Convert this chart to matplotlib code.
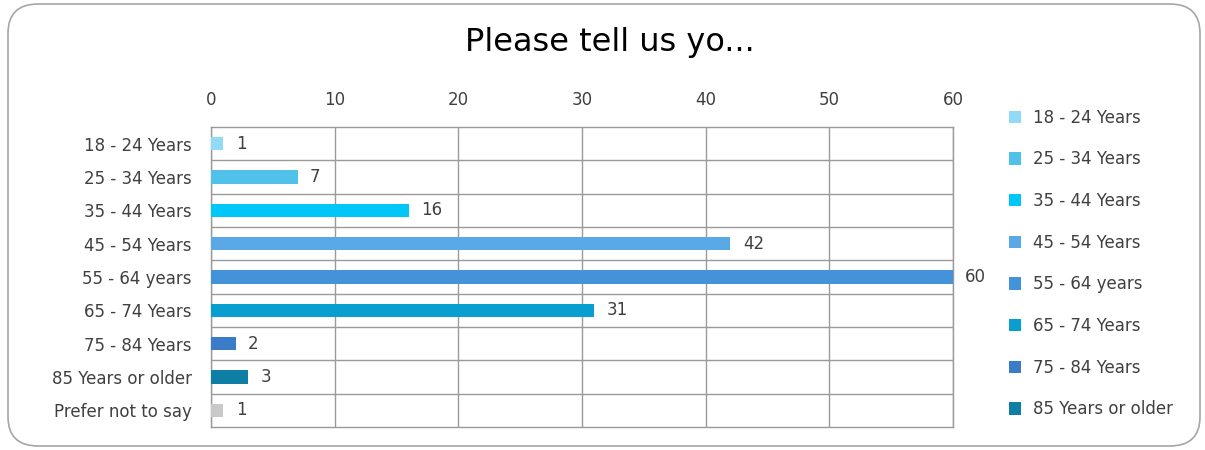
import matplotlib.pyplot as plt
from matplotlib.patches import FancyBboxPatch, Patch

# survey answers
groups = ["18 - 24 Years", "25 - 34 Years", "35 - 44 Years", "45 - 54 Years",
          "55 - 64 years", "65 - 74 Years", "75 - 84 Years", "85 Years or older",
          "Prefer not to say"]
counts = [1, 7, 16, 42, 60, 31, 2, 3, 1]
colors = ["#92DBF6", "#50C2EA", "#00C7F8", "#58A9E5", "#4493DA", "#0A9DD0",
          "#3A7CC7", "#0E7EA5", "#C9C9C9"]
xticks = [0, 10, 20, 30, 40, 50, 60]

txt = "#404040"
plt.rcParams['font.family'] = ['DejaVu Sans']

fig = plt.figure(figsize=(12.05, 4.5), dpi=100)
fig.patch.set_facecolor("white")

# rounded chart frame
frame = FancyBboxPatch((8 / 1205, 4 / 450), 1192 / 1205, 442 / 450,
                       boxstyle="round,pad=0,rounding_size=0.025",
                       transform=fig.transFigure, facecolor="none",
                       edgecolor="#A6A6A6", linewidth=1.2, mutation_aspect=2.6)
fig.patches.append(frame)

ax = fig.add_axes([211 / 1205, 23 / 450, 742 / 1205, 300 / 450])
y = list(range(len(groups)))
ax.barh(y, counts, height=0.4, color=colors, zorder=3)
for yi, v in zip(y, counts):
    ax.text(v + 1.0, yi, str(v), va="center", ha="left", fontsize=12, color=txt)

ax.set_xlim(0, 60)
ax.set_ylim(len(groups) - 0.5, -0.5)
ax.set_xticks(xticks)
ax.xaxis.tick_top()
ax.tick_params(axis="x", length=0, labelsize=12, labelcolor=txt, pad=13)
ax.set_yticks(y)
ax.set_yticklabels(groups)
ax.tick_params(axis="y", length=0, labelsize=12, labelcolor=txt, pad=14)

# grid: vertical at ticks, horizontal between categories
ax.grid(axis="x", color="#9A9A9A", linewidth=1.0, zorder=0)
for b in range(1, len(groups)):
    ax.axhline(b - 0.5, color="#9A9A9A", linewidth=1.0, zorder=0)
for s in ax.spines.values():
    s.set_color("#9A9A9A")
    s.set_linewidth(1.0)

fig.text(0.506, 0.905, "Please tell us yo...", ha="center", va="center",
         fontsize=23, color="#000000")

handles = [Patch(facecolor=c, edgecolor="none") for c in colors[:8]]
fig.legend(handles, groups[:8], loc="upper left",
           bbox_to_anchor=(1002 / 1205, 1 - 102 / 450), frameon=False,
           fontsize=12, labelcolor=txt, handlelength=0.75, handleheight=0.75,
           handletextpad=0.7, labelspacing=1.42, borderaxespad=0)

fig.savefig("out.png", dpi=100)
